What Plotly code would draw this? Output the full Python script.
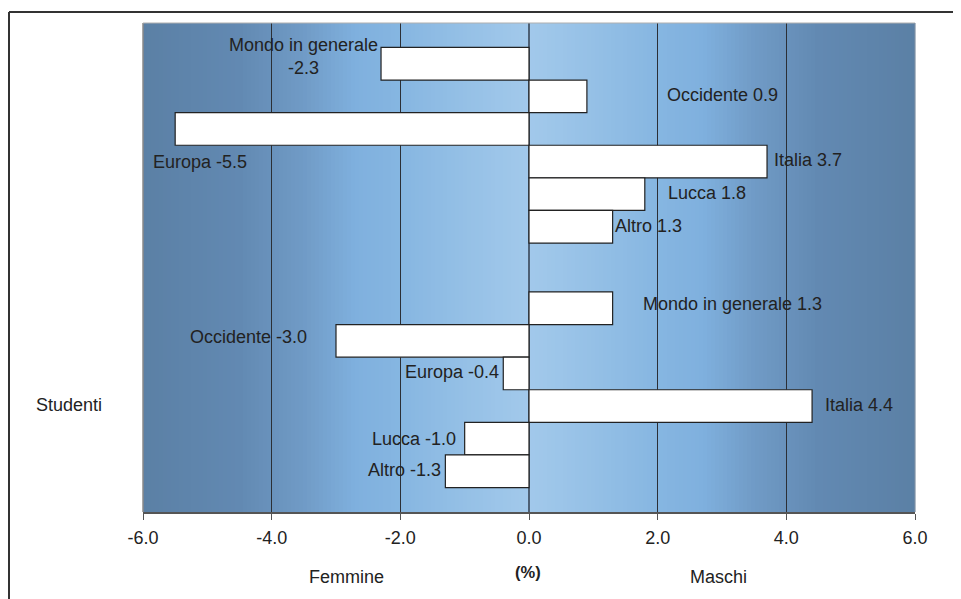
import plotly.graph_objects as go

# ---------------- data ----------------
regions = ["Mondo in generale", "Occidente", "Europa", "Italia", "Lucca", "Altro"]
groups = ["", "Studenti"]
values_top = [-2.3, 0.9, -5.5, 3.7, 1.8, 1.3]
values_studenti = [1.3, -3.0, -0.4, 4.4, -1.0, -1.3]
x_ticks = [-6.0, -4.0, -2.0, 0.0, 2.0, 4.0, 6.0]

# ---------------- style ----------------
BODY = 8  # browser default body margin
PL, PR, PT, PB = 143, 915, 23, 512   # plot area in page pixels
W, H = 961 - BODY, 599 - BODY
ML, MT = PL - BODY, PT - BODY
MR = W - (PR - BODY)
MB = H - (PB - BODY)
PW, PH = PR - PL, PB - PT
FONT = "Liberation Sans, Arial, sans-serif"
TXT = "#222222"
FS = 18
BARGAP = 0.2

# label shifts (px) relative to bar end / bar centre: (dx, dy_down)
label_shift_top = [(-78, -7), (136, -1), (25, 33), (41, -2), (62, -1), (36, -1)]
label_shift_stu = [(120, -4), (-88, -4), (-51, -1), (47, -1), (-51, 0), (-41, -1)]

fig = go.Figure()

series = [values_top, values_studenti]
n = len(regions)
for i, reg in enumerate(regions):
    fig.add_trace(go.Bar(
        orientation="h",
        y=list(range(len(groups))),
        x=[series[g][i] for g in range(len(groups))],
        name=reg,
        marker=dict(color="white", line=dict(color="#222222", width=1.2)),
        showlegend=False,
        hoverinfo="skip",
    ))

# gradient background built with overlapping strips
stops = [(0, (162, 201, 235)), (1, (149, 192, 230)), (2, (134, 182, 225)),
         (2.7, (127, 176, 222)), (3.5, (112, 155, 198)), (4.5, (98, 137, 178)),
         (6, (91, 128, 165))]

def col(a):
    a = abs(a)
    for (a0, c0), (a1, c1) in zip(stops[:-1], stops[1:]):
        if a0 <= a <= a1:
            t = (a - a0) / (a1 - a0)
            return "rgb(%d,%d,%d)" % tuple(round(c0[k] + t * (c1[k] - c0[k])) for k in range(3))
    return "rgb(%d,%d,%d)" % stops[-1][1]

shapes = []
N = 193
step = 12.0 / N
for k in range(N):
    x0 = -6 + k * step
    shapes.append(dict(type="rect", xref="x", yref="paper", x0=x0, x1=6,
                       y0=0, y1=1, fillcolor=col(x0 + step / 2), line=dict(width=0),
                       layer="below"))

def px_x(p):
    return (p - PL) / PW

def px_y(p):
    return (PB - p) / PH

# plot-area borders
shapes.append(dict(type="line", xref="paper", yref="paper", x0=0, x1=0, y0=0, y1=1,
                   line=dict(color="#8a8a8a", width=1.5), layer="above"))
shapes.append(dict(type="line", xref="paper", yref="paper", x0=0, x1=1, y0=1, y1=1,
                   line=dict(color="#b0b0b0", width=1.2), layer="above"))
shapes.append(dict(type="line", xref="paper", yref="paper", x0=1, x1=1, y0=0, y1=1,
                   line=dict(color="#7d8fa3", width=1.2), layer="above"))
# outer frame
shapes.append(dict(type="line", xref="paper", yref="paper", x0=px_x(9), x1=px_x(975),
                   y0=px_y(12), y1=px_y(12), line=dict(color="#333333", width=2)))
shapes.append(dict(type="line", xref="paper", yref="paper", x0=px_x(9), x1=px_x(9),
                   y0=px_y(12), y1=px_y(615), line=dict(color="#333333", width=2)))

# data labels
w = (1 - BARGAP) / n
annotations = []
for g, (vals, shifts) in enumerate([(values_top, label_shift_top), (values_studenti, label_shift_stu)]):
    for i, (reg, v) in enumerate(zip(regions, vals)):
        yc = g - (1 - BARGAP) / 2 + (i + 0.5) * w
        if g == 0 and i == 0:
            txt = "%s<br>%.1f" % (reg, v)
        else:
            txt = "%s %.1f" % (reg, v)
        dx, dy = shifts[i]
        annotations.append(dict(x=v, y=yc, xref="x", yref="y", text=txt, showarrow=False,
                                xanchor="center", yanchor="middle", xshift=dx, yshift=-dy,
                                font=dict(family=FONT, size=FS, color=TXT), align="center"))

annotations.append(dict(x=px_x(69), y=1, xref="paper", yref="y", text=groups[1],
                        showarrow=False, xanchor="center", yanchor="middle", yshift=-15,
                        font=dict(family=FONT, size=FS, color=TXT)))
annotations.append(dict(x=px_x(346), y=px_y(577), xref="paper", yref="paper", text="Femmine",
                        showarrow=False, xanchor="center", yanchor="middle",
                        font=dict(family=FONT, size=FS, color=TXT)))
annotations.append(dict(x=px_x(718), y=px_y(577), xref="paper", yref="paper", text="Maschi",
                        showarrow=False, xanchor="center", yanchor="middle",
                        font=dict(family=FONT, size=FS, color=TXT)))
annotations.append(dict(x=px_x(528), y=px_y(572), xref="paper", yref="paper", text="<b>(%)</b>",
                        showarrow=False, xanchor="center", yanchor="middle",
                        font=dict(family=FONT, size=16.5, color=TXT)))

fig.update_layout(
    width=W, height=H, autosize=False,
    margin=dict(l=ML, r=MR, t=MT, b=MB, pad=0),
    paper_bgcolor="white", plot_bgcolor="#8fbbe3",
    barmode="group", bargap=BARGAP, bargroupgap=0,
    shapes=shapes, annotations=annotations,
    xaxis=dict(range=[-6, 6], tickvals=x_ticks, ticktext=["%.1f" % t for t in x_ticks],
               showgrid=True, gridcolor="#2b2f36", gridwidth=1,
               zeroline=True, zerolinecolor="#4d6075", zerolinewidth=1.5,
               showline=True, linecolor="#555555", linewidth=1.5,
               ticks="outside", ticklen=6, tickcolor="#555555", tickwidth=1.2,
               ticklabelstandoff=3,
               tickfont=dict(family=FONT, size=FS, color=TXT), fixedrange=True),
    yaxis=dict(range=[1.5, -0.5], showticklabels=False, showgrid=False, zeroline=False,
               showline=False, ticks="", fixedrange=True),
)

fig.write_html("out.html")
